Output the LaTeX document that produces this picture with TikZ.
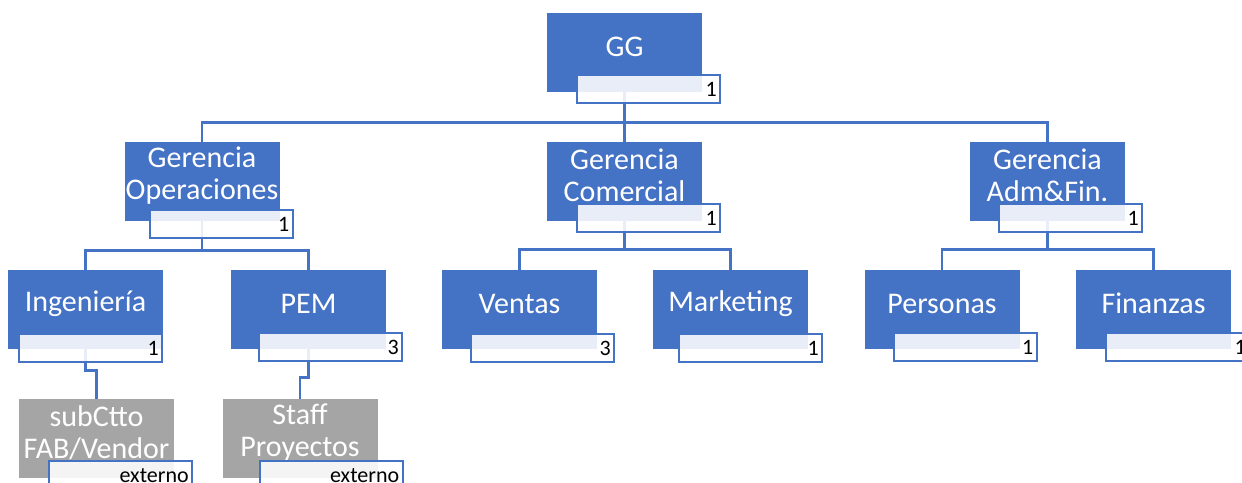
\documentclass[tikz,border=0pt]{standalone}
\usepackage{fontspec}
\setmainfont{Carlito}
\usepackage{tikz}
\usetikzlibrary{backgrounds}
\definecolor{oblue}{HTML}{4472C4}
\definecolor{ogray}{HTML}{A5A5A5}
\tikzset{
  unit/.style     = {rectangle, fill=oblue, minimum width=155pt,
                     minimum height=79pt, inner sep=0pt},
  ext/.style      = {unit, fill=ogray},
  unittxt/.style  = {text=white, align=center, inner sep=0pt,
                     font=\fontsize{30}{32}\selectfont},
  exttxt/.style   = {unittxt},
  cntbox/.style   = {rectangle, draw=oblue, line width=2pt, fill=white,
                     fill opacity=0.88, text opacity=1, text width=136pt,
                     align=right, inner xsep=3.5pt, inner ysep=0pt,
                     minimum height=28pt, font=\fontsize{22}{24}\selectfont},
  conn/.style     = {draw=oblue, line width=2.6pt},
}
\newcommand{\orgunit}[7]{%              % #1 = style, #2 = name, #3 = x, #4 = y, #5 = text, #6 = count, #7 = count shift
  \node[#1] (#2) at (#3,#4) {};
  \node[#1txt] (#2t) at ([yshift=6pt]#2.center) {#5};
  \node[cntbox, anchor=north east] (#2c) at ([shift={#7}]#2.south east) {#6};}

\begin{document}
\begin{tikzpicture}[x=1pt,y=-1pt]
  \useasboundingbox (0,0) rectangle (1242,482);
  \clip (0,0) rectangle (1242,482);
  % level 1
  \orgunit{unit}{gg}{624.5}{52.5}{GG}{1}{(19,-18)}
  % level 2
  \orgunit{unit}{gop}{202}{181.5}{Gerencia\\Operaciones}{1}{(14,-12)}
  \orgunit{unit}{gcom}{624.5}{181.5}{Gerencia\\Comercial}{1}{(19,-18)}
  \orgunit{unit}{gadm}{1047.5}{181.5}{Gerencia\\Adm\&Fin.}{1}{(18,-18)}
  % level 3
  \orgunit{unit}{ing}{85.5}{309.5}{Ingeniería}{1}{(0,-16)}
  \orgunit{unit}{pem}{308.5}{309.5}{PEM}{3}{(17,-17)}
  \orgunit{unit}{ven}{519.5}{309.5}{Ventas}{3}{(18,-16)}
  \orgunit{unit}{mkt}{730.5}{309.5}{Marketing}{1}{(15,-16)}
  \orgunit{unit}{per}{942}{309.5}{Personas}{1}{(18,-17)}
  \orgunit{unit}{fin}{1153.5}{309.5}{Finanzas}{1}{(19,-17)}
  % externos
  \orgunit{ext}{sub}{96.5}{438.5}{subCtto\\FAB/Vendor}{externo}{(19,-18)}
  \orgunit{ext}{stf}{300}{438.5}{Staff\\Proyectos}{externo}{(26,-18)}
  % connectors
  \begin{scope}[on background layer]
    \draw[conn] (gg.south) -- ++(0,30) coordinate (ggbus) -| (gop.north)
                (ggbus) -| (gcom.north) (ggbus) -| (gadm.north);
    \draw[conn] (gop.south) -- ++(0,29) coordinate (gopbus) -| (ing.north)
                (gopbus) -| (pem.north);
    \draw[conn] (gcom.south) -- ++(0,28) coordinate (gcombus) -| (ven.north)
                (gcombus) -| (mkt.north);
    \draw[conn] (gadm.south) -- ++(0,28) coordinate (gadmbus) -| (per.north)
                (gadmbus) -| (fin.north);
    \draw[conn] (ing.south) -- ++(0,21) -| (sub.north);
    \draw[conn] (pem.south) -- ++(0,28) -| (stf.north);
  \end{scope}
\end{tikzpicture}
\end{document}
